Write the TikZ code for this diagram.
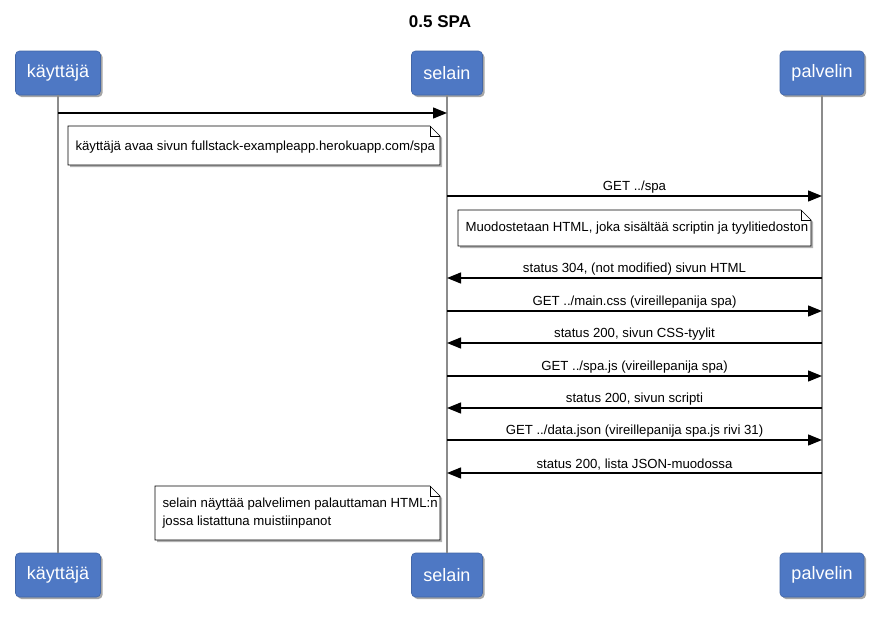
\documentclass[tikz,border=0pt]{standalone}
\usepackage{fontspec}
\setmainfont{Liberation Sans}
\usetikzlibrary{arrows.meta,shadows}
\definecolor{partblue}{HTML}{4E78C4}
\definecolor{lifegray}{HTML}{8C8C8C}
\tikzset{
  part/.style={draw=partblue!85!black, line width=0.6pt, fill=partblue, rounded corners=4pt, text=white,
    font=\fontsize{18}{20}\selectfont, minimum height=44pt, inner xsep=8pt,
    drop shadow={shadow xshift=2pt, shadow yshift=-2pt, fill=black, opacity=0.35}},
  life/.style={draw=lifegray, line width=1.3pt},
  msg/.style={draw=black, line width=1.3pt, -{Triangle[length=14pt,width=11pt]}},
  lbl/.style={font=\fontsize{13.2}{15}\selectfont, above, inner sep=2pt},
  notetext/.style={font=\fontsize{13.2}{18}\selectfont, align=left, anchor=west},
  notebox/.style={draw=black, line width=0.6pt, fill=white, drop shadow={shadow xshift=2pt, shadow yshift=-2pt, fill=black, opacity=0.3}}
}
\begin{document}
\begin{tikzpicture}[x=1pt,y=-1pt]
\useasboundingbox[fill=white] (0,0) rectangle (880,621);
\node[font=\bfseries\fontsize{17}{19}\selectfont] (title) at (440,22) {0.5 SPA};
% participants
\node[part, minimum width=85pt] (k1) at (58,73) {käyttäjä};
\node[part, minimum width=71pt] (s1) at (447,73) {selain};
\node[part, minimum width=84pt] (p1) at (822,73) {palvelin};
\node[part, minimum width=85pt] (k2) at (58,575) {käyttäjä};
\node[part, minimum width=71pt] (s2) at (447,575) {selain};
\node[part, minimum width=84pt] (p2) at (822,575) {palvelin};
% lifelines
\draw[life] (k1.south) -- (k2.north);
\draw[life] (s1.south) -- (s2.north);
\draw[life] (p1.south) -- (p2.north);
% message coordinates
\foreach \n/\y in {a/113,b/196,c/278,d/311,e/343,f/376,g/408,h/440,i/473}{
  \coordinate (k\n) at (58,\y);
  \coordinate (s\n) at (447,\y);
  \coordinate (p\n) at (822,\y);
}
\draw[msg] (ka) -- (sa);
% note 1
\draw[notebox] (68,126) -- (430,126) -- (440,136) -- (440,165) -- (68,165) -- cycle;
\draw[line width=0.6pt] (430,126) -- (430,136) -- (440,136);
\node[notetext] (n1) at (72,147) {käyttäjä avaa sivun fullstack-exampleapp.herokuapp.com/spa};
\draw[msg] (sb) -- node[lbl] (lb) {GET ../spa} (pb);
% note 2
\draw[notebox] (458,210) -- (801,210) -- (811,220) -- (811,246) -- (458,246) -- cycle;
\draw[line width=0.6pt] (801,210) -- (801,220) -- (811,220);
\node[notetext] (n2) at (462,228) {Muodostetaan HTML, joka sisältää scriptin ja tyylitiedoston};
\draw[msg] (pc) -- node[lbl] (lc) {status 304, (not modified) sivun HTML} (sc);
\draw[msg] (sd) -- node[lbl] (ld) {GET ../main.css (vireillepanija spa)} (pd);
\draw[msg] (pe) -- node[lbl] (le) {status 200, sivun CSS-tyylit} (se);
\draw[msg] (sf) -- node[lbl] (lf) {GET ../spa.js (vireillepanija spa)} (pf);
\draw[msg] (pg) -- node[lbl] (lg) {status 200, sivun scripti} (sg);
\draw[msg] (sh) -- node[lbl] (lh) {GET ../data.json (vireillepanija spa.js rivi 31)} (ph);
\draw[msg] (pi) -- node[lbl] (li) {status 200, lista JSON-muodossa} (si);
% note 3
\draw[notebox] (155,486) -- (430,486) -- (440,496) -- (440,540) -- (155,540) -- cycle;
\draw[line width=0.6pt] (430,486) -- (430,496) -- (440,496);
\node[notetext] (n3) at (159,513) {selain näyttää palvelimen palauttaman HTML:n\\jossa listattuna muistiinpanot};
\end{tikzpicture}
\end{document}
